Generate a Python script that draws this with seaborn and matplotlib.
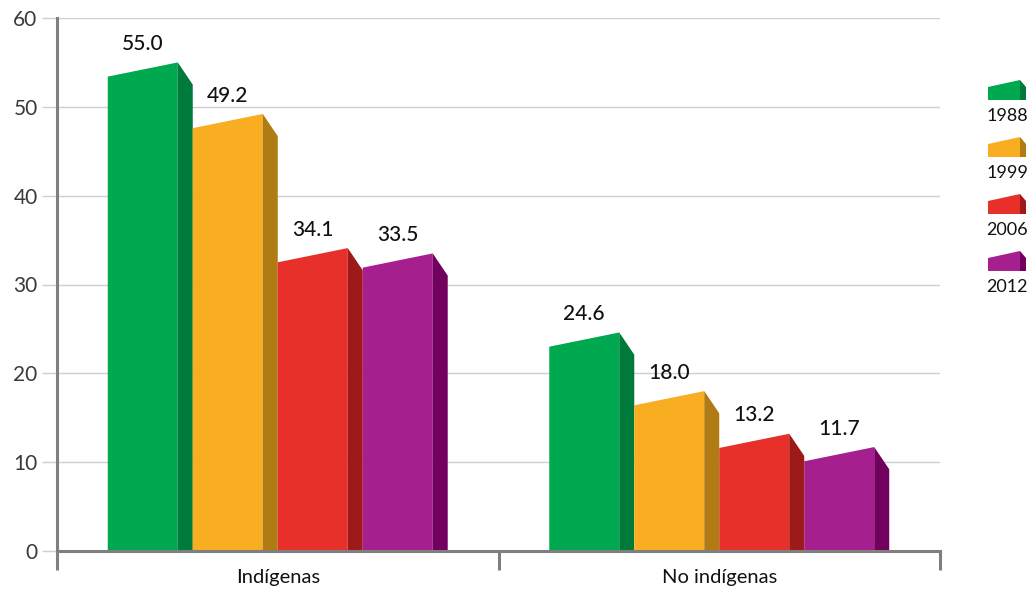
import pandas as pd
import numpy as np
import matplotlib
matplotlib.use('Agg')
import matplotlib.pyplot as plt
from matplotlib.patches import Polygon
import seaborn as sns

# Data
categories = ['Indígenas', 'No indígenas']
years = ['1988', '1999', '2006', '2012']
values_1988 = [55.0, 24.6]
values_1999 = [49.2, 18.0]
values_2006 = [34.1, 13.2]
values_2012 = [33.5, 11.7]

front_colors = ['#00A84F', '#F9AE21', '#E8302A', '#A61F8F']
side_colors = ['#007A3A', '#AF7B12', '#9E1A18', '#72005F']

rows = []
for year, vals in zip(years, [values_1988, values_1999, values_2006, values_2012]):
    for cat, v in zip(categories, vals):
        rows.append({'Grupo': cat, 'Año': year, 'Valor': v})
df = pd.DataFrame(rows)

sns.set_theme(style='white')
plt.rcParams['font.family'] = ['Lato', 'DejaVu Sans']

fig = plt.figure(figsize=(10.32, 5.98), dpi=100)
ax = fig.add_axes([57 / 1032, 47 / 598, 883 / 1032, 533 / 598])

sns.barplot(data=df, x='Grupo', y='Valor', hue='Año', palette=front_colors,
            width=0.77, ax=ax, legend=False, saturation=1)

# 3D look: front face with slanted top plus a darker side face
front_frac = 70 / 85
d_left = 1.6   # drop of front top-left corner (data units)
d_side = 2.5   # drop of side face outer corner
for i, cont in enumerate(ax.containers):
    for bar in cont:
        x0 = bar.get_x()
        w = bar.get_width()
        h = bar.get_height()
        x1 = x0 + w * front_frac
        x2 = x0 + w
        bar.set_visible(False)
        ax.add_patch(Polygon([(x0, 0), (x0, h - d_left), (x1, h), (x1, 0)],
                             closed=True, facecolor=front_colors[i], edgecolor='none', zorder=3))
        ax.add_patch(Polygon([(x1, 0), (x1, h), (x2, h - d_side), (x2, 0)],
                             closed=True, facecolor=side_colors[i], edgecolor='none', zorder=3))
        ax.annotate(f'{h:.1f}', ((x0 + x1) / 2, h), xytext=(0, 6), textcoords='offset points',
                    ha='center', va='bottom', fontsize=15, fontweight='medium', color='#111111')

ax.set_xlim(-0.5, 1.5)
ax.set_ylim(0, 60)
ax.set_yticks([0, 10, 20, 30, 40, 50, 60])
ax.yaxis.grid(True, color='#CFCFCF', linewidth=1)
ax.set_axisbelow(True)
ax.tick_params(axis='y', which='major', left=True, length=11, width=1, color='#CFCFCF',
               labelsize=15, labelcolor='#3A3A3A', pad=3)

ax.set_xticks([0, 1])
ax.set_xticklabels(categories)
ax.set_xticks([-0.5, 0.5, 1.5], minor=True)
ax.tick_params(axis='x', which='major', bottom=True, length=0, labelsize=14.5,
               labelcolor='#111111', pad=13)
ax.tick_params(axis='x', which='minor', bottom=True, length=14, width=2.2, color='#7F7F7F')

ax.set_xlabel('')
ax.set_ylabel('')
for side in ['top', 'right']:
    ax.spines[side].set_visible(False)
for side in ['left', 'bottom']:
    ax.spines[side].set_color('#7F7F7F')
    ax.spines[side].set_linewidth(2.2)
    ax.spines[side].set_zorder(4)

# Legend drawn as small 3D blocks with the year below
W, H = 1032, 598
for i, year in enumerate(years):
    yb = H - (100 + 57 * i)
    xl, xr, xs = 988, 1020, 1026
    top = yb + 20
    fig.patches.append(Polygon(
        [(xl / W, yb / H), (xl / W, (top - 7) / H), (xr / W, top / H), (xr / W, yb / H)],
        closed=True, transform=fig.transFigure, facecolor=front_colors[i], edgecolor='none'))
    fig.patches.append(Polygon(
        [(xr / W, yb / H), (xr / W, top / H), (xs / W, (top - 7) / H), (xs / W, yb / H)],
        closed=True, transform=fig.transFigure, facecolor=side_colors[i], edgecolor='none'))
    fig.text(1007 / W, (yb - 16) / H, year, ha='center', va='center',
             fontsize=13, color='#111111')

plt.savefig('out.png', dpi=100)
plt.close()
